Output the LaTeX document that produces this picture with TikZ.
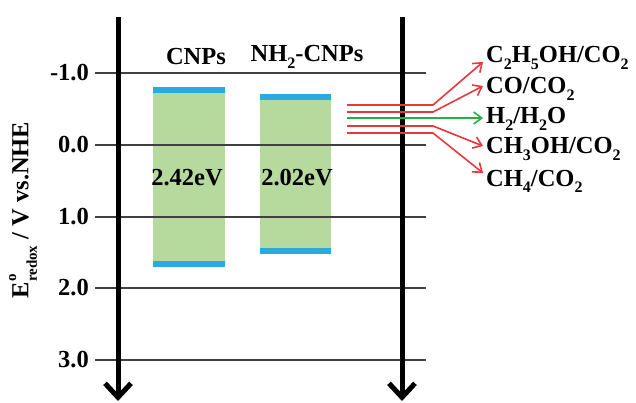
\documentclass[tikz,border=0pt]{standalone}
\usepackage{fontspec}
\setmainfont{Liberation Serif}
\usetikzlibrary{arrows.meta}
\definecolor{gapgreen}{HTML}{B6DA9E}
\definecolor{bandblue}{HTML}{29ABE2}
\definecolor{rxred}{HTML}{E8383D}
\definecolor{rxgreen}{HTML}{22B04B}
\newcommand{\mysb}[1]{\raisebox{-0.28em}{\fontsize{16}{16}\selectfont #1}}
\begin{document}
\begin{tikzpicture}[x=1pt,y=-1pt,
  lbl/.style={font=\fontsize{24.5}{25}\selectfont\bfseries, inner sep=0pt},
  gridline/.style={draw=black!75, line width=1.3pt},
  axis/.style={line width=5pt, -{Straight Barb[length=14pt,width=26pt]}},
  redarr/.style={draw=rxred, line width=1.6pt, -{Straight Barb[length=8pt,width=12pt]}},
  greenarr/.style={draw=rxgreen, line width=1.6pt, -{Straight Barb[length=8pt,width=12pt]}}]
\useasboundingbox (0,0) rectangle (636,403);
% bands
\fill[gapgreen] (153,93) rectangle (225,261);
\fill[bandblue] (153,87) rectangle (225,93);
\fill[bandblue] (153,261) rectangle (225,267);
\fill[gapgreen] (260,100) rectangle (331,248);
\fill[bandblue] (260,94) rectangle (331,100);
\fill[bandblue] (260,248) rectangle (331,254);
% grid
\foreach \v/\y/\n in {-1.0/73/ga,0.0/145/gb,1.0/217/gc,2.0/288/gd,3.0/360/ge}{
  \node[lbl, anchor=east] (\n) at (89,\y) {\v};
  \coordinate (\n s) at (95,\y);
  \coordinate (\n e) at (426,\y);
  \draw[gridline] (\n s) -- (\n e);
}
% axes
\coordinate (la1) at (118,17); \coordinate (la2) at (118,401);
\coordinate (ra1) at (402,17); \coordinate (ra2) at (402,401);
\draw[axis] (la1) -- (la2);
\draw[axis] (ra1) -- (ra2);
% labels
\node[lbl] (cnps) at (196,57) {CNPs};
\node[lbl] (nhcnps) at (307,57) {NH\mysb{2}-CNPs};
\node[lbl] (g1) at (187,178) {2.42eV};
\node[lbl] (g2) at (297,178) {2.02eV};
\node[lbl, rotate=90] (ylab) at (23,210) {E\rlap{\raisebox{0.5em}{\fontsize{15}{15}\selectfont o}}\raisebox{-0.35em}{\fontsize{15}{15}\selectfont redox} / V vs.NHE};
% right labels
\node[lbl, anchor=base west] (r1) at (486,63) {C\mysb{2}H\mysb{5}OH/CO\mysb{2}};
\node[lbl, anchor=base west] (r2) at (486,94) {CO/CO\mysb{2}};
\node[lbl, anchor=base west] (r3) at (486,124) {H\mysb{2}/H\mysb{2}O};
\node[lbl, anchor=base west] (r4) at (486,154) {CH\mysb{3}OH/CO\mysb{2}};
\node[lbl, anchor=base west] (r5) at (486,186) {CH\mysb{4}/CO\mysb{2}};
% reaction arrows
\coordinate (s1) at (347,105); \coordinate (b1) at (433,105); \coordinate (e1) at (483,62);
\coordinate (s2) at (347,112); \coordinate (b2) at (433,112); \coordinate (e2) at (483,86);
\coordinate (s3) at (347,118); \coordinate (e3) at (483,118);
\coordinate (s4) at (347,126); \coordinate (b4) at (433,126); \coordinate (e4) at (483,146);
\coordinate (s5) at (347,133); \coordinate (b5) at (433,133); \coordinate (e5) at (483,173);
\draw[redarr] (s1) -- (b1) -- (e1);
\draw[redarr] (s2) -- (b2) -- (e2);
\draw[greenarr] (s3) -- (e3);
\draw[redarr] (s4) -- (b4) -- (e4);
\draw[redarr] (s5) -- (b5) -- (e5);
\end{tikzpicture}
\end{document}
